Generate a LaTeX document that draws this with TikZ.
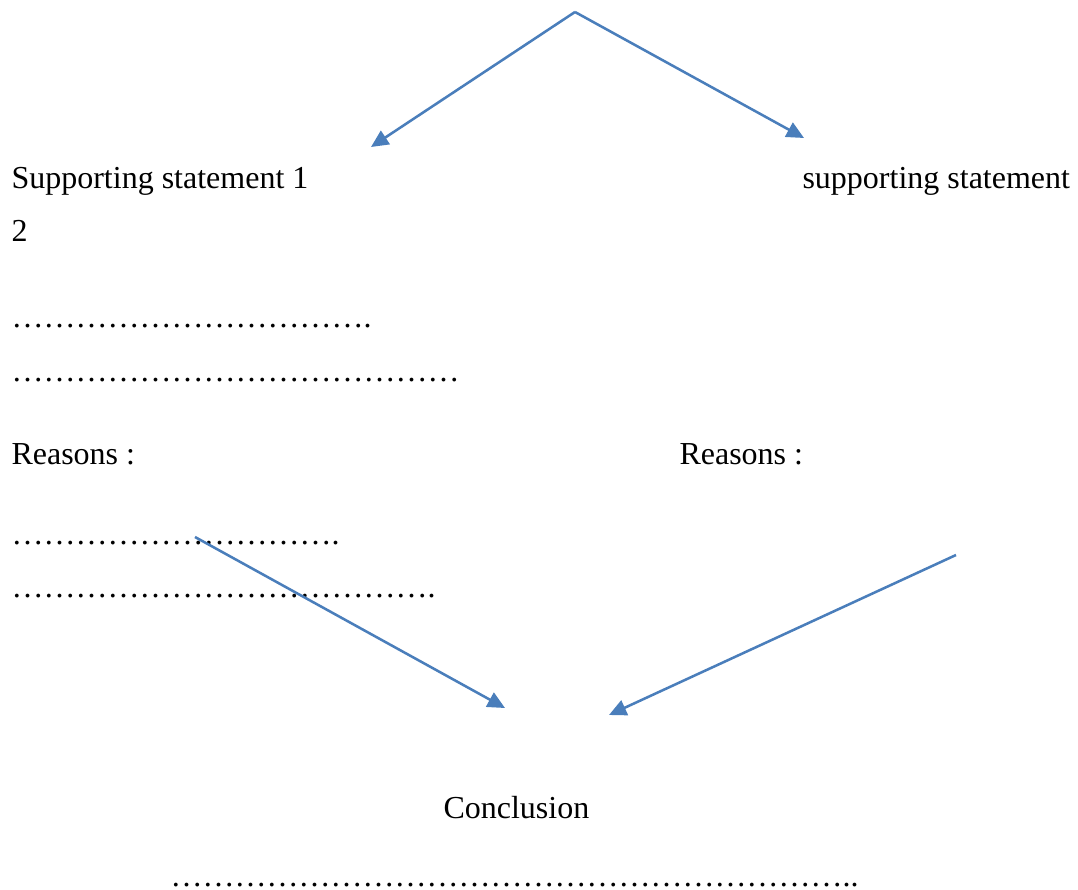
\documentclass[tikz,border=0pt]{standalone}
\usepackage{fontspec}
\setmainfont{Liberation Serif}
\usetikzlibrary{arrows.meta}
\definecolor{arrowblue}{HTML}{4A7EBB}
% a run of n ellipsis characters
\newcommand{\dotrun}[1]{\foreach \k in {1,...,#1}{\char"2026}}

\begin{document}
\begin{tikzpicture}[x=0.375pt, y=-0.375pt,
  txt/.style={anchor=base west, inner sep=0pt, font=\fontsize{12pt}{14pt}\selectfont},
  arr/.style={draw=arrowblue, line width=0.95pt, -{Triangle[length=6.5pt,width=6pt]}}]

\useasboundingbox (0,0) rectangle (1078,890);

\coordinate (Top) at (575,12);
\coordinate (L1) at (371,147);
\coordinate (R1) at (804,138);
\coordinate (L2) at (195,537);
\coordinate (R2) at (956,555);
\coordinate (C1) at (505,708);
\coordinate (C2) at (609,715);

\node[txt] (S1) at (11,189) {Supporting statement 1};
\node[txt] (S2) at (802,189) {supporting statement};
\node[txt] (S2n) at (11,242) {2};
\node[txt] (D1) at (11,328) {\dotrun{11}.};
\node[txt] (D2) at (11,382) {\dotrun{14}};
\node[txt] (R1t) at (11,465) {Reasons :};
\node[txt] (R2t) at (679,465) {Reasons :};
\node[txt] (D3) at (11,545) {\dotrun{10}.};
\node[txt] (D4) at (11,598) {\dotrun{13}.};
\node[txt] (Con) at (443,818) {Conclusion};
\node[txt] (D5) at (170,886) {\dotrun{21}..};

\draw[arr] (Top) -- (L1);
\draw[arr] (Top) -- (R1);
\draw[arr] (L2) -- (C1);
\draw[arr] (R2) -- (C2);

\end{tikzpicture}
\end{document}
